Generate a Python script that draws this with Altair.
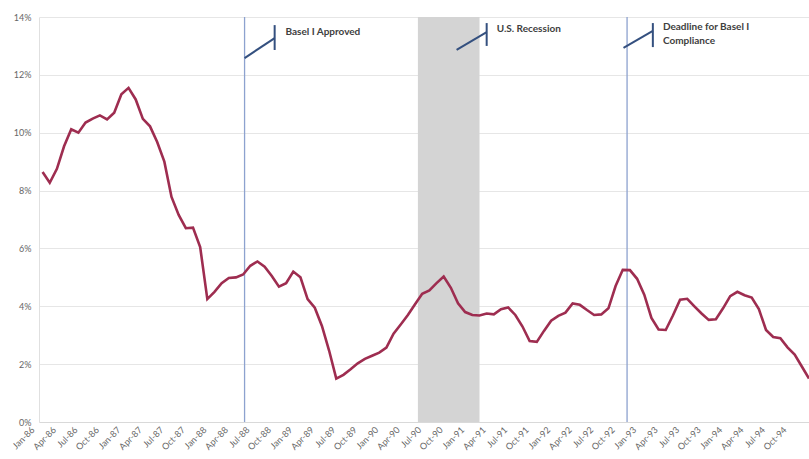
import json
import altair as alt
import pandas as pd

# Monthly series, Jan-86 .. Dec-94 (percent)
loan_growth = [
    8.64, 8.27, 8.75, 9.53, 10.12, 10.00, 10.35, 10.49, 10.60, 10.46, 10.69, 11.33,
    11.55, 11.15, 10.48, 10.22, 9.68, 9.00, 7.78, 7.16, 6.70, 6.72, 6.05, 4.25,
    4.50, 4.80, 4.98, 5.00, 5.10, 5.40, 5.55, 5.37, 5.05, 4.68, 4.80, 5.20,
    5.00, 4.25, 3.95, 3.32, 2.47, 1.50, 1.63, 1.82, 2.03, 2.18, 2.29, 2.40,
    2.57, 3.05, 3.37, 3.70, 4.07, 4.43, 4.55, 4.80, 5.03, 4.64, 4.10, 3.80,
    3.70, 3.68, 3.75, 3.72, 3.90, 3.96, 3.70, 3.30, 2.80, 2.77, 3.15, 3.50,
    3.67, 3.78, 4.10, 4.05, 3.87, 3.70, 3.72, 3.93, 4.70, 5.26, 5.25, 4.95,
    4.40, 3.60, 3.20, 3.18, 3.68, 4.23, 4.26, 4.00, 3.75, 3.53, 3.55, 3.93,
    4.35, 4.50, 4.38, 4.30, 3.90, 3.18, 2.94, 2.90, 2.58, 2.33, 1.92, 1.50,
]

tick_labels = [
    "Jan-86", "Apr-86", "Jul-86", "Oct-86", "Jan-87", "Apr-87", "Jul-87", "Oct-87",
    "Jan-88", "Apr-88", "Jul-88", "Oct-88", "Jan-89", "Apr-89", "Jul-89", "Oct-89",
    "Jan-90", "Apr-90", "Jul-90", "Oct-90", "Jan-91", "Apr-91", "Jul-91", "Oct-91",
    "Jan-92", "Apr-92", "Jul-92", "Oct-92", "Jan-93", "Apr-93", "Jul-93", "Oct-93",
    "Jan-94", "Apr-94", "Jul-94", "Oct-94",
]
tick_months = [3 * k for k in range(len(tick_labels))]

y_ticks = [0, 2, 4, 6, 8, 10, 12, 14]

# Event markers (month index from Jan-86)
event_names = ["Basel I Approved", "Deadline for Basel I Compliance"]
event_months = [28.2, 81.6]
recession_start = [52.4]
recession_end = [61.0]

# Callout leaders: a diagonal stroke then a short vertical bar, per note
callout_x = [28.2, 32.4, 57.8, 62.0, 81.1, 85.2]
callout_y = [12.58, 13.72, 12.86, 13.79, 12.93, 13.79]
callout_x2 = [32.4, 32.4, 62.0, 62.0, 85.2, 85.2]
callout_y2 = [13.27, 12.86, 13.48, 13.0, 13.52, 12.96]

note_text = ["Basel I Approved", "U.S. Recession", "Deadline for Basel I", "Compliance"]
note_x = [33.9, 63.4, 86.6, 86.6]
note_y = [13.47, 13.57, 13.66, 13.18]

series = pd.DataFrame({"month": list(range(len(loan_growth))), "pct": loan_growth})
events = pd.DataFrame({"event": event_names, "month": event_months})
recession = pd.DataFrame({"start": recession_start, "end": recession_end,
                          "top": [max(y_ticks)], "bottom": [0]})
callouts = pd.DataFrame({"x": callout_x, "y": callout_y, "x2": callout_x2, "y2": callout_y2})
notes = pd.DataFrame({"text": note_text, "x": note_x, "y": note_y})

x_scale = alt.Scale(domain=[-0.5, len(loan_growth) - 1], nice=False, zero=False)
y_scale = alt.Scale(domain=[0, 14], nice=False, zero=True)

label_expr = f"{json.dumps(tick_labels)}[round(datum.value / 3)]"

x_axis = alt.Axis(
    values=tick_months, labelExpr=label_expr, labelAngle=-45, labelAlign="right",
    labelBaseline="middle", labelFontSize=9, labelColor="#666666", labelFont="Lato",
    labelPadding=6, labelOffset=-10, ticks=False, grid=False, domainColor="#D9D9D9",
    title=None, labelOverlap=False, labelBound=False, labelFlush=False,
)
y_axis = alt.Axis(
    values=y_ticks, labelExpr="datum.value + '%'", labelFontSize=9,
    labelColor="#666666", labelFont="Lato", labelPadding=8, ticks=False,
    gridColor="#E6E6E6", gridWidth=1, domainColor="#E0E0E0", title=None,
)


def xq(field):
    return alt.X(field, type="quantitative", scale=x_scale, axis=x_axis)


def yq(field):
    return alt.Y(field, type="quantitative", scale=y_scale, axis=y_axis)


shade = alt.Chart(recession).mark_rect(color="#D4D4D4").encode(
    x=xq("start"), x2="end", y=yq("top"), y2="bottom",
)

rules = alt.Chart(events).mark_rule(color="#8DA2CF", strokeWidth=1.3).encode(
    x=xq("month"),
)

line = alt.Chart(series).mark_line(color="#9E2D50", strokeWidth=2.6, clip=True).encode(
    x=xq("month"), y=yq("pct"),
)

leaders = alt.Chart(callouts).mark_rule(color="#34507F", strokeWidth=2).encode(
    x=xq("x"), x2="x2", y=yq("y"), y2="y2",
)

labels = alt.Chart(notes).mark_text(
    align="left", baseline="middle", font="Lato", fontSize=10,
    fontWeight="bold", color="#404040",
).encode(
    x=xq("x"), y=yq("y"), text="text:N",
)

chart = alt.layer(shade, rules, line, leaders, labels).properties(
    width=770, height=405,
    autosize=alt.AutoSizeParams(type="none"),
    padding={"left": 39, "top": 17, "right": 0, "bottom": 37},
    background="white",
).configure_view(stroke=None)

chart.save("out.html", embed_options={"renderer": "svg", "actions": False})
